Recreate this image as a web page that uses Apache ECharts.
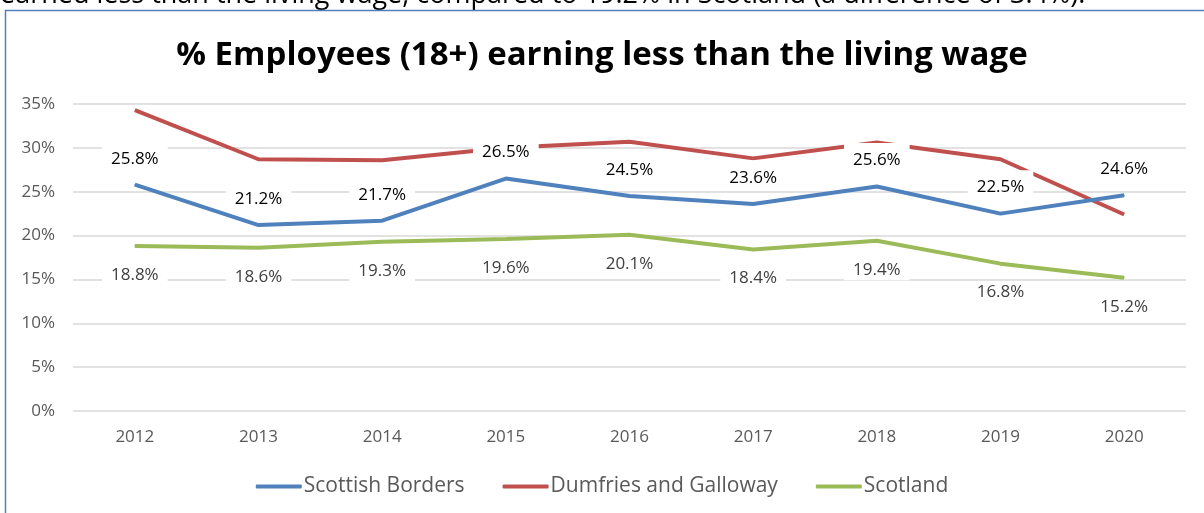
<!DOCTYPE html>
<html><head><meta charset="utf-8">
<script src="https://cdn.jsdelivr.net/npm/echarts@6/dist/echarts.min.js"></script>
<style>html,body{margin:0;padding:0;background:#fff}#c{width:1204px;height:513px}</style>
</head><body><div id="c"></div>
<script>
const years = ['2012','2013','2014','2015','2016','2017','2018','2019','2020'];
const scottishBorders = [25.8, 21.2, 21.7, 26.5, 24.5, 23.6, 25.6, 22.5, 24.6];
const dumfriesGalloway = [34.3, 28.7, 28.6, 30.0, 30.7, 28.8, 30.6, 28.7, 22.4];
const scotland = [18.8, 18.6, 19.3, 19.6, 20.1, 18.4, 19.4, 16.8, 15.2];
const seriesNames = ['Scottish Borders', 'Dumfries and Galloway', 'Scotland'];
const titleText = '% Employees (18+) earning less than the living wage';
const topText = 'earned less than the living wage, compared to 19.2% in Scotland (a difference of 3.4%).';

const FONT = '"Open Sans", "Noto Sans", sans-serif';
const chart = echarts.init(document.getElementById('c'), null, {renderer: 'canvas'});
chart.setOption({
  animation: false,
  backgroundColor: '#fff',
  graphic: [
    {type: 'text', left: 0, top: -18, style: {text: topText, font: '27px ' + FONT, fill: '#000'}, z: 10},
    {type: 'rect', shape: {x: 5.5, y: 10.5, width: 1300, height: 600}, style: {fill: 'none', stroke: '#4f81bd', lineWidth: 1.5}, z: 10}
  ],
  title: {
    text: titleText, left: 'center', top: 34,
    textStyle: {fontFamily: FONT, fontSize: 33, fontWeight: 'bold', color: '#000'}
  },
  grid: {left: 73, right: 18, top: 104, bottom: 102, containLabel: false},
  legend: {
    bottom: 11, left: 'center', itemWidth: 46, itemHeight: 4, itemGap: 38,
    icon: 'roundRect',
    textStyle: {fontFamily: FONT, fontSize: 21, color: '#595959', padding: [0,0,0,-3]},
    data: seriesNames
  },
  xAxis: {
    type: 'category', data: years, boundaryGap: true,
    axisLine: {show: false}, axisTick: {show: false},
    axisLabel: {fontFamily: FONT, fontSize: 17, color: '#595959', margin: 18}
  },
  yAxis: {
    type: 'value', min: 0, max: 35, interval: 5,
    axisLine: {show: false}, axisTick: {show: false},
    axisLabel: {fontFamily: FONT, fontSize: 17, color: '#595959', formatter: '{value}%', margin: 18},
    splitLine: {lineStyle: {color: '#d9d9d9', width: 1.5}}
  },
  series: [
    {
      name: seriesNames[0], type: 'line', data: scottishBorders, symbol: 'circle', symbolSize: 1, showSymbol: true,
      lineStyle: {color: '#4f81bd', width: 4}, itemStyle: {color: '#4f81bd'},
      label: {show: true, position: 'top', distance: 15, formatter: p => p.value.toFixed(1) + '%',
        fontFamily: FONT, fontSize: 17, color: '#000', backgroundColor: '#fff', padding: [9, 9, 2, 9]},
      z: 3
    },
    {
      name: seriesNames[1], type: 'line', data: dumfriesGalloway, symbol: 'none',
      lineStyle: {color: '#c0504d', width: 4}, itemStyle: {color: '#c0504d'}, z: 2
    },
    {
      name: seriesNames[2], type: 'line', data: scotland, symbol: 'circle', symbolSize: 1, showSymbol: true,
      lineStyle: {color: '#9bbb59', width: 4}, itemStyle: {color: '#9bbb59'},
      label: {show: true, position: 'bottom', distance: 18, formatter: p => p.value.toFixed(1) + '%',
        fontFamily: FONT, fontSize: 17, color: '#404040', backgroundColor: '#fff', padding: [2, 9]},
      z: 3
    }
  ]
});
</script></body></html>
